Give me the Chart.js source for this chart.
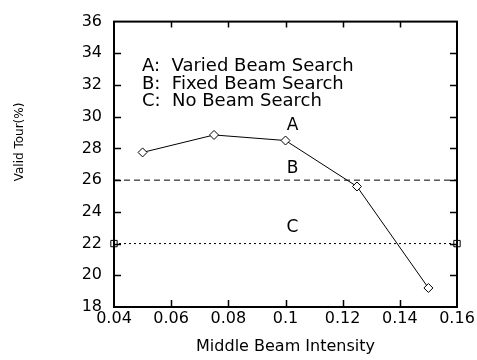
<!DOCTYPE html>
<html>
<head>
<meta charset="utf-8">
<script src="https://cdn.jsdelivr.net/npm/chart.js@4.4.0/dist/chart.umd.min.js"></script>
<style>
  html, body { margin: 0; padding: 0; background: #fff; }
  #wrap { width: 477px; height: 360px; }
</style>
</head>
<body>
<div id="wrap"><canvas id="chart" width="477" height="360"></canvas></div>
<script>
// data
const intensity = [0.05, 0.075, 0.1, 0.125, 0.15];
const variedBeam = [27.75, 28.85, 28.5, 25.6, 19.2];
const fixedX = [0.04, 0.16];
const fixedBeam = [26, 26];
const noBeamX = [0.04, 0.16];
const noBeam = [22, 22];

const xTicks = [0.04, 0.06, 0.08, 0.1, 0.12, 0.14, 0.16];
const yTicks = [18, 20, 22, 24, 26, 28, 30, 32, 34, 36];

const legendLines = ["A:  Varied Beam Search", "B:  Fixed Beam Search", "C:  No Beam Search"];
const curveLabels = ["A", "B", "C"];
const curveLabelX = 0.1;
const curveLabelY = [29.45, 26.75, 23.0];

const xTitle = "Middle Beam Intensity";
const yTitle = "Valid Tour(%)";

const FONT = "DejaVu Sans";

function toPoints(xs, ys) {
  return xs.map((x, i) => ({ x: x, y: ys[i] }));
}

// frame, inward ticks, titles and text labels
const decorations = {
  id: 'decorations',
  afterDraw(chart) {
    const ctx = chart.ctx;
    const a = chart.chartArea;
    const xs = chart.scales.x, ys = chart.scales.y;
    ctx.save();
    ctx.strokeStyle = "#000";
    ctx.lineWidth = 2;
    ctx.strokeRect(a.left, a.top, a.right - a.left, a.bottom - a.top);

    ctx.lineWidth = 1.5;
    ctx.beginPath();
    xTicks.slice(1, -1).forEach(v => {
      const px = Math.round(xs.getPixelForValue(v)) + 0.5;
      ctx.moveTo(px, a.bottom); ctx.lineTo(px, a.bottom - 7);
      ctx.moveTo(px, a.top); ctx.lineTo(px, a.top + 6);
    });
    yTicks.slice(1, -1).forEach(v => {
      const py = Math.round(ys.getPixelForValue(v)) + 0.5;
      ctx.moveTo(a.left, py); ctx.lineTo(a.left + 7, py);
      ctx.moveTo(a.right, py); ctx.lineTo(a.right - 7, py);
    });
    ctx.stroke();

    ctx.fillStyle = "#000";
    ctx.font = "18px '" + FONT + "'";
    ctx.textBaseline = "middle";
    ctx.textAlign = "left";
    legendLines.forEach((t, i) => {
      ctx.fillText(t, a.left + 28, a.top + 45 + i * 17.5);
    });

    ctx.textAlign = "center";
    ctx.font = "17px '" + FONT + "'";
    curveLabels.forEach((t, i) => {
      ctx.fillText(t, xs.getPixelForValue(curveLabelX) + 7, ys.getPixelForValue(curveLabelY[i]));
    });

    ctx.font = "16px '" + FONT + "'";
    ctx.fillText(xTitle, (a.left + a.right) / 2, 347);
    ctx.font = "12px '" + FONT + "'";
    ctx.translate(20, 142);
    ctx.rotate(-Math.PI / 2);
    ctx.fillText(yTitle, 0, 0);
    ctx.restore();
  }
};

new Chart(document.getElementById("chart"), {
  type: 'scatter',
  data: {
    datasets: [
      {
        label: "Varied Beam Search",
        data: toPoints(intensity, variedBeam),
        showLine: true,
        borderColor: "#000",
        borderWidth: 1,
        pointStyle: 'rectRot',
        pointRadius: 4.5,
        pointBorderWidth: 1,
        pointBackgroundColor: "#fff",
        pointBorderColor: "#000"
      },
      {
        label: "Fixed Beam Search",
        data: toPoints(fixedX, fixedBeam),
        showLine: true,
        borderColor: "#000",
        borderWidth: 1,
        borderDash: [6, 4],
        pointRadius: 0
      },
      {
        label: "No Beam Search",
        data: toPoints(noBeamX, noBeam),
        showLine: true,
        borderColor: "#000",
        borderWidth: 1,
        borderDash: [2, 3],
        pointStyle: 'rect',
        pointRadius: 4.5,
        pointBorderWidth: 1,
        pointBackgroundColor: "#fff",
        pointBorderColor: "#000"
      }
    ]
  },
  options: {
    responsive: false,
    animation: false,
    clip: false,
    layout: { padding: { left: 0, right: 20, top: 13, bottom: 0 } },
    plugins: {
      legend: { display: false },
      tooltip: { enabled: false }
    },
    scales: {
      x: {
        type: 'linear',
        min: 0.04,
        max: 0.16,
        afterBuildTicks: (s) => { s.ticks = xTicks.map(v => ({ value: v })); },
        afterFit: (s) => { s.height = 53; },
        grid: { display: false, drawTicks: false },
        border: { display: false },
        ticks: {
          color: "#000",
          padding: 2,
          maxRotation: 0,
          autoSkip: false,
          font: { family: FONT, size: 16 },
          callback: (v) => String(parseFloat(Number(v).toFixed(2)))
        }
      },
      y: {
        min: 18,
        max: 36,
        afterBuildTicks: (s) => { s.ticks = yTicks.map(v => ({ value: v })); },
        afterFit: (s) => { s.width = 114; },
        grid: { display: false, drawTicks: false },
        border: { display: false },
        ticks: {
          color: "#000",
          padding: 12,
          autoSkip: false,
          font: { family: FONT, size: 16 }
        }
      }
    }
  },
  plugins: [decorations]
});
</script>
</body>
</html>
